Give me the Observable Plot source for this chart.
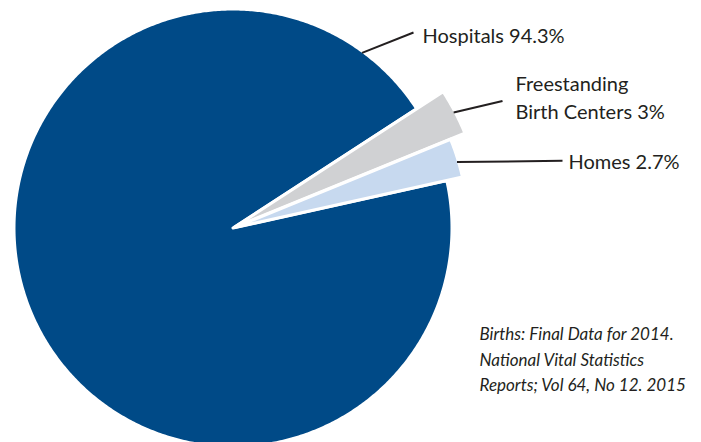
<!DOCTYPE html>
<html>
<head>
<meta charset="utf-8">
<script src="https://cdn.jsdelivr.net/npm/d3@7"></script>
<script src="https://cdn.jsdelivr.net/npm/@observablehq/plot@0.6"></script>
<style>
  html, body { margin: 0; padding: 0; background: #fff; }
  #chart svg { display: block; }
</style>
</head>
<body>
<div id="chart"></div>
<script>
// ---- data ----
const categories = ["Hospitals", "Freestanding Birth Centers", "Homes"];
const shares = [94.3, 3, 2.7];
const labels = ["Hospitals 94.3%", "Freestanding\nBirth Centers 3%", "Homes 2.7%"];
const sourceLines = ["Births: Final Data for 2014.", "National Vital Statistics", "Reports; Vol 64, No 12. 2015"];

// ---- styling / layout ----
const colors = ["#004a87", "#d0d1d3", "#c7d9ef"];
const W = 701, H = 442;
const cx = 232.5, cy = 227.5;
const radii = [219, 248.5, 233.5];
const offsets = [0, 2, 1.5];
const deg = Math.PI / 180;
const startAngle = 77.5 * deg;
const leaderAngles = [36.4 * deg, null, 73.6 * deg];
const leaderEnds = [[413, 32], [502, 100.5], [562, 160.3]];
const labelPos = [[422, 33.4], [515, 96], [568, 160]];

const pie = d3.pie().sort(null).startAngle(startAngle).endAngle(startAngle + 2 * Math.PI);
const arcs = pie(shares);

// polygon points for each slice
const slicePts = [];
arcs.forEach((a, i) => {
  const mid = (a.startAngle + a.endAngle) / 2;
  const ox = offsets[i] * Math.sin(mid), oy = -offsets[i] * Math.cos(mid);
  const r = radii[i];
  slicePts.push({cat: categories[i], x: cx + ox, y: cy + oy});
  const n = Math.max(8, Math.ceil((a.endAngle - a.startAngle) / (0.5 * deg)));
  for (let k = 0; k <= n; k++) {
    const t = a.startAngle + (a.endAngle - a.startAngle) * k / n;
    slicePts.push({cat: categories[i], x: cx + ox + r * Math.sin(t), y: cy + oy - r * Math.cos(t)});
  }
  slicePts.push({cat: categories[i], x: cx + ox, y: cy + oy});
});

const leaders = arcs.map((a, i) => {
  const ang = leaderAngles[i] ?? (a.startAngle + a.endAngle) / 2;
  const mid = (a.startAngle + a.endAngle) / 2;
  const ox = offsets[i] * Math.sin(mid), oy = -offsets[i] * Math.cos(mid);
  const r = radii[i] - 1.5;
  return {
    x1: cx + ox + r * Math.sin(ang), y1: cy + oy - r * Math.cos(ang),
    x2: leaderEnds[i][0], y2: leaderEnds[i][1]
  };
});

const labelData = labels.map((t, i) => ({text: t, x: labelPos[i][0], y: labelPos[i][1]}));

const chart = Plot.plot({
  width: W, height: H, margin: 0,
  x: {domain: [0, W], range: [0, W], axis: null},
  y: {domain: [0, H], range: [0, H], axis: null},
  color: {domain: categories, range: colors},
  style: {background: "#fff"},
  marks: [
    Plot.line(slicePts, {x: "x", y: "y", z: "cat", fill: "cat", stroke: "#fff", strokeWidth: 3, strokeLinejoin: "miter", strokeMiterlimit: 10, curve: "linear"}),
    Plot.link(leaders, {x1: "x1", y1: "y1", x2: "x2", y2: "y2", stroke: "#231f20", strokeWidth: 2}),
    Plot.text(labelData, {x: "x", y: "y", text: "text", textAnchor: "start", lineAnchor: "middle", lineHeight: 1.4, fontSize: 20, fill: "#231f20", fontFamily: "Lato, 'Open Sans', sans-serif"}),
    Plot.text([sourceLines.join("\n")], {x: () => 479, y: () => 320.9, text: d => d, textAnchor: "start", lineAnchor: "top", lineHeight: 1.52, fontSize: 17, fontStyle: "italic", fill: "#231f20", fontFamily: "Lato, 'Open Sans', sans-serif"})
  ]
});
document.getElementById("chart").append(chart);
</script>
</body>
</html>
